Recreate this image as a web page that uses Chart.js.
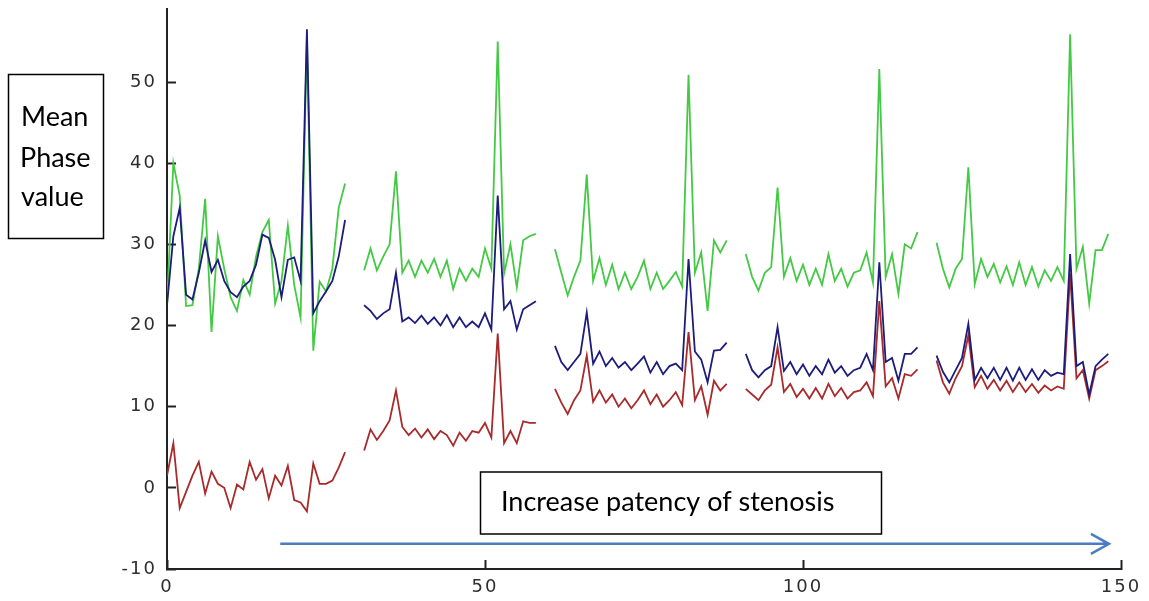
<!DOCTYPE html>
<html>
<head>
<meta charset="utf-8">
<script src="https://cdn.jsdelivr.net/npm/chart.js@4/dist/chart.umd.min.js"></script>
<style>
  body { margin: 0; background: #fff; }
  canvas { display: block; }
</style>
</head>
<body>
<canvas id="phaseChart" width="1149" height="601"></canvas>
<script>
// first sample index of each recording block
const segStart = [0, 31, 61, 91, 121]
const xTicks = [0, 50, 100, 150]
const yTicks = [-10, 0, 10, 20, 30, 40, 50]

const greenSeg1 = [22.7, 40.0, 36.0, 22.4, 22.5, 27.0, 35.6, 19.2, 31.0, 27.0, 23.5, 21.8, 25.6, 23.8, 28.5, 31.5, 33.0, 22.7, 25.5, 32.3, 25.0, 21.0, 55.5, 16.9, 25.4, 24.2, 27.0, 34.5, 37.5]
const greenSeg2 = [26.8, 29.5, 26.8, 28.5, 30.0, 39.0, 26.5, 28.0, 26.0, 28.0, 26.5, 28.2, 26.0, 28.0, 24.5, 27.0, 25.5, 27.0, 26.0, 29.5, 27.0, 55.0, 26.4, 30.0, 24.7, 30.5, 31.0, 31.3]
const greenSeg3 = [29.4, 26.5, 23.7, 26.0, 28.0, 38.6, 25.5, 28.3, 25.0, 27.5, 24.5, 26.5, 24.5, 26.0, 28.0, 24.5, 26.5, 24.5, 25.5, 26.6, 24.8, 50.9, 26.5, 29.0, 21.8, 30.5, 29.0, 30.5]
const greenSeg4 = [28.8, 26.0, 24.3, 26.5, 27.2, 37.0, 26.0, 28.3, 25.5, 27.5, 25.0, 27.0, 25.0, 28.8, 25.5, 27.0, 24.8, 26.5, 26.8, 29.0, 25.3, 51.6, 26.0, 28.8, 23.9, 30.0, 29.5, 31.5]
const greenSeg5 = [30.2, 27.0, 24.7, 27.0, 28.2, 39.5, 25.1, 28.2, 26.0, 27.6, 25.3, 27.3, 25.0, 27.8, 25.0, 27.2, 24.8, 26.8, 25.5, 27.2, 25.5, 55.9, 27.0, 29.7, 22.7, 29.3, 29.3, 31.3]

const blueSeg1 = [22.5, 31.0, 34.5, 23.8, 23.2, 26.5, 30.5, 26.6, 28.1, 25.5, 24.1, 23.5, 24.8, 25.5, 27.5, 31.2, 30.8, 28.1, 23.5, 28.1, 28.4, 25.5, 56.5, 21.5, 23.0, 24.2, 25.5, 28.5, 33.0]
const blueSeg2 = [22.5, 21.8, 20.8, 21.5, 22.0, 26.5, 20.5, 21.0, 20.3, 21.2, 20.2, 21.0, 20.0, 21.3, 19.8, 21.0, 19.8, 20.5, 19.8, 21.5, 19.5, 36.0, 22.0, 23.0, 19.5, 22.0, 22.5, 23.0]
const blueSeg3 = [17.5, 15.5, 14.5, 15.5, 16.5, 21.6, 15.3, 16.8, 15.0, 16.0, 14.8, 15.5, 14.5, 15.3, 16.2, 14.2, 15.5, 14.0, 15.0, 15.3, 14.5, 28.2, 16.8, 15.8, 13.0, 16.9, 17.0, 17.9]
const blueSeg4 = [16.5, 14.5, 13.6, 14.5, 15.0, 19.8, 14.4, 15.5, 14.0, 15.2, 13.8, 15.0, 14.0, 15.8, 14.2, 15.0, 13.8, 14.5, 14.8, 16.5, 14.5, 27.8, 15.5, 16.0, 13.2, 16.5, 16.5, 17.3]
const blueSeg5 = [16.3, 14.3, 13.0, 14.5, 16.0, 20.2, 13.3, 14.8, 13.5, 14.8, 13.3, 14.8, 13.2, 14.8, 13.3, 14.6, 13.3, 14.5, 13.8, 14.2, 14.0, 28.8, 15.0, 15.5, 11.5, 15.0, 15.8, 16.5]

const redSeg1 = [1.5, 5.5, -2.5, -0.5, 1.5, 3.2, -0.7, 2.0, 0.5, 0.0, -2.5, 0.4, -0.2, 3.2, 1.0, 2.3, -1.3, 1.5, 0.3, 2.7, -1.5, -1.8, -2.9, 3.0, 0.5, 0.5, 0.9, 2.5, 4.4]
const redSeg2 = [4.6, 7.2, 5.9, 7.0, 8.3, 12.0, 7.5, 6.5, 7.3, 6.2, 7.2, 6.0, 7.0, 6.5, 5.2, 6.8, 5.8, 7.0, 6.8, 8.0, 6.2, 19.0, 5.5, 7.0, 5.5, 8.2, 8.0, 8.0]
const redSeg3 = [12.2, 10.5, 9.1, 10.8, 12.0, 16.3, 10.6, 12.0, 10.5, 11.5, 10.0, 11.0, 9.8, 10.8, 12.0, 10.3, 11.5, 10.0, 10.8, 11.8, 10.2, 19.2, 10.8, 12.5, 9.0, 13.2, 12.0, 12.8]
const redSeg4 = [12.2, 11.5, 10.8, 12.0, 12.7, 17.3, 11.8, 12.8, 11.2, 12.2, 11.0, 12.3, 11.0, 12.8, 11.3, 12.3, 11.0, 11.8, 12.0, 13.0, 11.3, 23.0, 12.5, 13.5, 11.0, 14.0, 13.8, 14.6]
const redSeg5 = [15.7, 13.0, 11.6, 13.5, 15.0, 18.8, 12.4, 13.8, 12.2, 13.3, 12.0, 13.2, 11.8, 13.0, 11.8, 12.8, 11.7, 12.6, 12.0, 12.5, 12.2, 26.4, 13.5, 14.5, 11.0, 14.5, 15.0, 15.6]

// join the blocks into one point list, with a null between blocks so the line breaks
function toPoints(segs) {
    let pts = []
    segs.forEach(function(seg, s) {
        if (s > 0) pts.push({x: segStart[s] - 1, y: null})
        seg.forEach(function(v, i) {
            pts.push({x: segStart[s] + i, y: v})
        })
    })
    return pts
}

const AXIS = '#222'
const TICKTEXT = '#2e2e2e'

// wider digit spacing for the axis numbers
const spacing = {
    id: 'spacing',
    beforeUpdate(chart) { chart.ctx.letterSpacing = '2px' },
    beforeDraw(chart) { chart.ctx.letterSpacing = '2px' }
}

// the two text boxes and the arrow along the bottom
const notes = {
    id: 'notes',
    afterDraw(chart) {
        const c = chart.ctx
        const xs = chart.scales.x
        const ys = chart.scales.y
        c.save()
        c.letterSpacing = '0px'
        c.strokeStyle = '#000'
        c.lineWidth = 1.5
        c.strokeRect(8.5, 74.5, 95, 164)
        c.strokeRect(480.5, 472, 401, 62)

        c.fillStyle = '#000'
        c.font = '27px Lato'
        c.textBaseline = 'middle'
        c.textAlign = 'left'
        c.fillText('Mean', 21, 117)
        c.fillText('Phase', 20, 158)
        c.fillText('value', 21, 197)
        c.fillText('Increase patency of stenosis', 501, 502)

        // arrow
        const y = ys.getPixelForValue(-6.9)
        const x0 = xs.getPixelForValue(17.8)
        const x1 = xs.getPixelForValue(148.1)
        c.strokeStyle = '#4a7cc4'
        c.lineWidth = 2.5
        c.beginPath()
        c.moveTo(x0, y)
        c.lineTo(x1, y)
        c.moveTo(x1 - 18, y - 10)
        c.lineTo(x1, y)
        c.lineTo(x1 - 18, y + 10)
        c.stroke()
        c.restore()
    }
}

// negative tick length turns the tick marks inward
const axisGrid = {
    drawOnChartArea: false,
    drawTicks: true,
    tickLength: -9,
    tickWidth: 2,
    tickColor: AXIS
}

const ctx = document.getElementById('phaseChart').getContext('2d')
const graph = new Chart(ctx, {
    type: 'line',
    data: {
        datasets: [
            {
                label: 'blue',
                data: toPoints([blueSeg1, blueSeg2, blueSeg3, blueSeg4, blueSeg5]),
                borderColor: '#1c1c7a',
                borderWidth: 1.8,
                order: 1
            },
            {
                label: 'red',
                data: toPoints([redSeg1, redSeg2, redSeg3, redSeg4, redSeg5]),
                borderColor: '#a82a2a',
                borderWidth: 1.8,
                order: 2
            },
            {
                label: 'green',
                data: toPoints([greenSeg1, greenSeg2, greenSeg3, greenSeg4, greenSeg5]),
                borderColor: '#44c944',
                borderWidth: 1.8,
                order: 3
            }
        ]
    },
    options: {
        responsive: false,
        animation: false,
        spanGaps: false,
        elements: {
            point: { radius: 0 },
            line: { tension: 0 }
        },
        layout: {
            padding: { top: 9, right: 28, left: 0, bottom: 0 }
        },
        plugins: {
            legend: { display: false },
            tooltip: { enabled: false }
        },
        scales: {
            x: {
                type: 'linear',
                min: 0,
                max: 150,
                afterBuildTicks(scale) { scale.ticks = xTicks.map(v => ({value: v})) },
                afterFit(scale) {
                    scale.height = 32
                    scale.paddingLeft = 0
                    scale.paddingRight = 0
                },
                ticks: {
                    color: TICKTEXT,
                    font: { family: 'DejaVu Sans', size: 18 },
                    padding: 17,
                    maxRotation: 0
                },
                grid: axisGrid,
                border: { color: AXIS, width: 2 }
            },
            y: {
                type: 'linear',
                min: -10,
                max: 59,
                afterBuildTicks(scale) { scale.ticks = yTicks.map(v => ({value: v})) },
                afterFit(scale) {
                    scale.width = 167
                    scale.paddingTop = 0
                    scale.paddingBottom = 0
                },
                ticks: {
                    color: TICKTEXT,
                    font: { family: 'DejaVu Sans', size: 18 },
                    padding: 19
                },
                grid: axisGrid,
                border: { color: AXIS, width: 2 }
            }
        }
    },
    plugins: [spacing, notes]
})
</script>
</body>
</html>
